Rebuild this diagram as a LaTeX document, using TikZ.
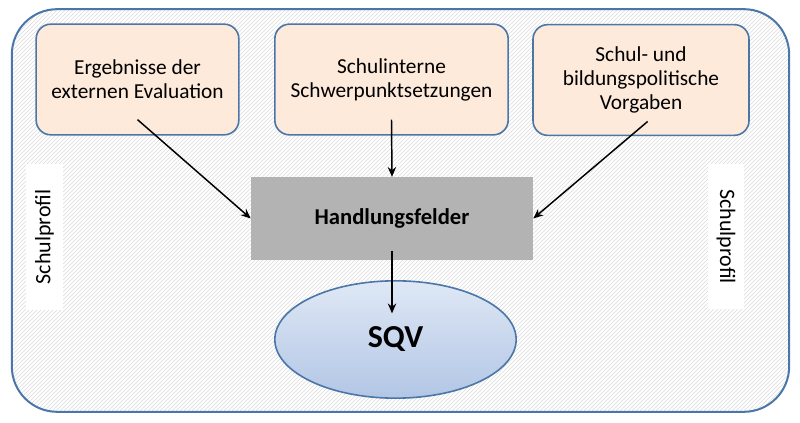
\documentclass[tikz,border=0pt]{standalone}
\usepackage{fontspec}
\setmainfont{Carlito}
\usepackage{xcolor}
\usepackage{tikz}
\usetikzlibrary{arrows.meta,positioning,shapes.geometric,patterns}
\definecolor{frameblue}{HTML}{4A76A8}
\definecolor{softpeach}{HTML}{FDEADB}
\definecolor{midgray}{HTML}{B3B3B3}
\definecolor{lightblue}{HTML}{DFE8F5}
\definecolor{deepblue}{HTML}{B2C6E5}
\definecolor{hatchgray}{HTML}{DADADA}
\tikzset{
  frame/.style={draw=frameblue, line width=1.5pt, rounded corners=34pt, pattern=north east lines, pattern color=hatchgray, minimum width=583pt, minimum height=302pt},
  source/.style={draw=frameblue, line width=1.2pt, rounded corners=11pt, align=center, fill=softpeach, minimum height=83pt, font=\fontsize{16}{18}\selectfont},
  field/.style={fill=midgray, align=center, minimum width=211.5pt, minimum height=62pt, font=\fontsize{17}{20}\selectfont\bfseries},
  goal/.style={draw=frameblue, line width=1.2pt, ellipse, top color=lightblue, bottom color=deepblue, minimum width=181pt, minimum height=88pt, font=\fontsize{24}{28}\selectfont\bfseries},
  sidelabel/.style={fill=white, minimum width=109pt, minimum height=27.5pt, font=\fontsize{16.5}{18}\selectfont},
  arrow/.style={-{Stealth[length=2.6mm,width=2.2mm]}, line width=1.1pt, draw=black}
}
\begin{document}
\begin{tikzpicture}[x=0.75pt,y=0.75pt]
  \useasboundingbox (0,0) rectangle (800,-423);
  \node[frame] (frame) at (400.5,-210.5) {};

  \node[source, minimum width=152pt] (extern) at (137.5,-79.5) {Ergebnisse der\\externen Evaluation};
  \node[source, minimum width=175pt] (intern) at (391.5,-79.5) {Schulinterne\\Schwerpunktsetzungen};
  \node[source, minimum width=162pt] (policy) at (641,-80) {Schul- und\\bildungspolitische\\Vorgaben};

  \node[field] (fields) at (392,-218.5) {Handlungsfelder};
  \node[goal] (sqv) at (395.5,-339.5) {SQV};

  \node[sidelabel, rotate=90] (profileleft) at (44.5,-237) {Schulprofil};
  \node[sidelabel, rotate=-90] (profileright) at (726,-236.5) {Schulprofil};

  \draw[arrow] ([yshift=12pt]extern.south) -- (fields.west);
  \draw[arrow] ([yshift=12pt]intern.south) -- (fields.north);
  \draw[arrow] ([xshift=5pt,yshift=11pt]policy.south) -- (fields.east);
  \draw[arrow] ([yshift=7pt]fields.south) -- ([yshift=-25pt]sqv.north -| fields.south);
\end{tikzpicture}
\end{document}
